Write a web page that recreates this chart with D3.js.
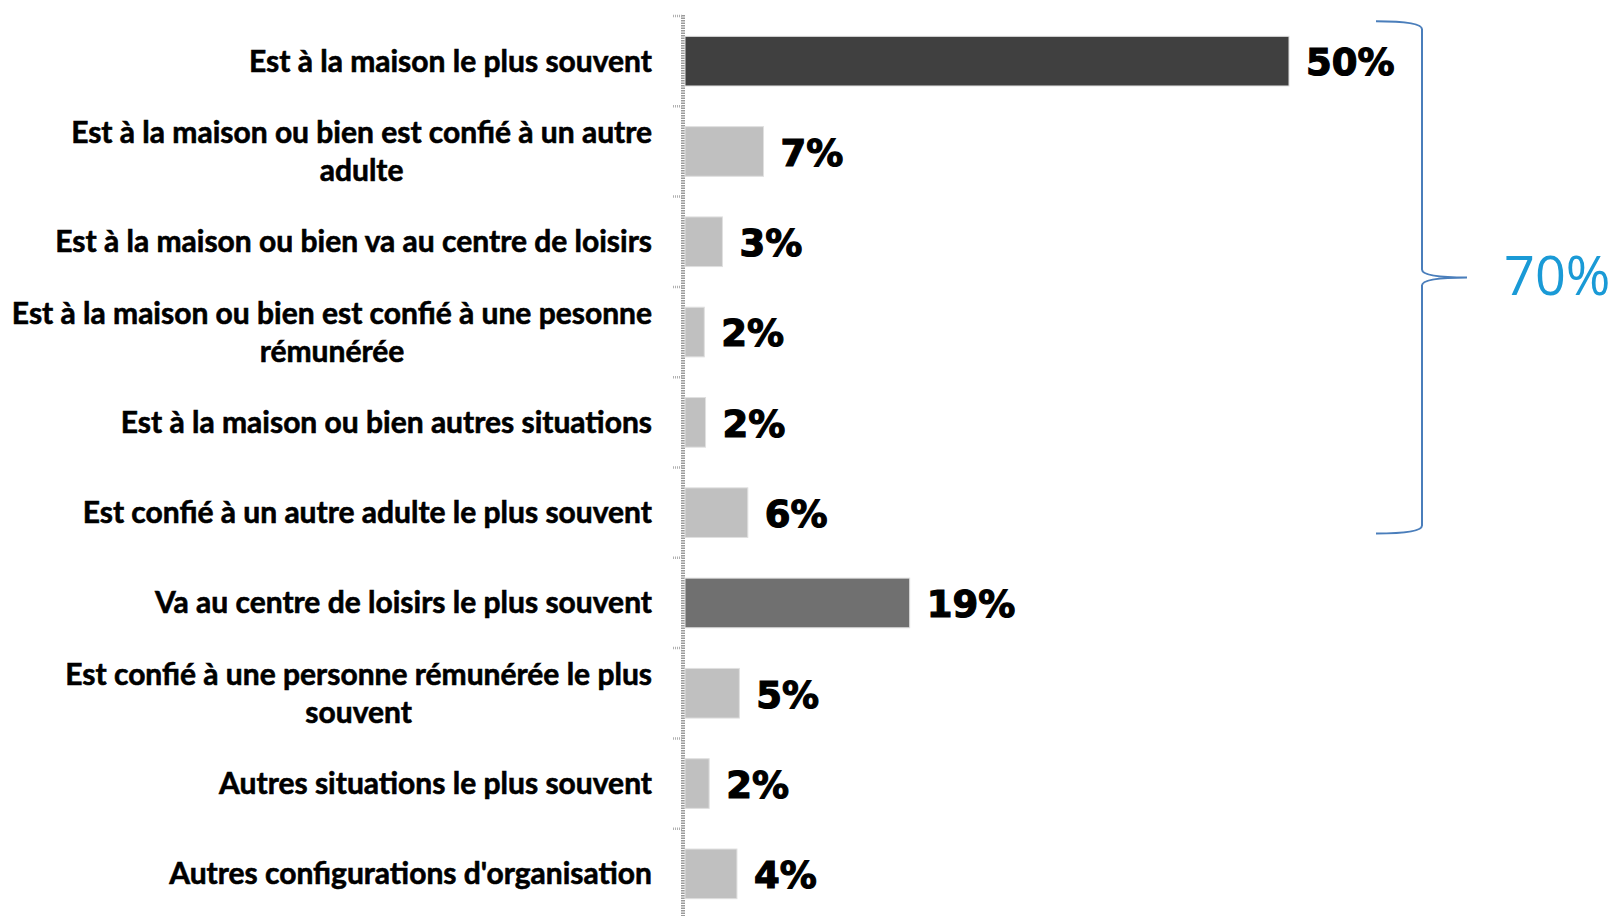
<!DOCTYPE html>
<html>
<head>
<meta charset="utf-8">
<script src="https://cdn.jsdelivr.net/npm/d3@7"></script>
<style>
  html, body { margin: 0; padding: 0; background: #fff; }
  svg { display: block; }
</style>
</head>
<body>
<svg id="chart" width="1614" height="916"></svg>
<script>

// categories, one array of lines per label
var categories = [
    ["Est à la maison le plus souvent"],
    ["Est à la maison ou bien est confié à un autre", "adulte"],
    ["Est à la maison ou bien va au centre de loisirs"],
    ["Est à la maison ou bien est confié à une pesonne", "rémunérée"],
    ["Est à la maison ou bien autres situations"],
    ["Est confié à un autre adulte le plus souvent"],
    ["Va au centre de loisirs le plus souvent"],
    ["Est confié à une personne rémunérée le plus", "souvent"],
    ["Autres situations le plus souvent"],
    ["Autres configurations d'organisation"]
]

var values = [50, 6.5, 3.1, 1.6, 1.7, 5.2, 18.6, 4.5, 2.0, 4.3]
var valueLabels = ["50%", "7%", "3%", "2%", "2%", "6%", "19%", "5%", "2%", "4%"]
var groups = ["main", "sub", "sub", "sub", "sub", "sub", "centre", "sub", "sub", "sub"]

// brace over the first six rows
var braceFrom = 0, braceTo = 5
var braceLabel = "70%"

var svg = d3.select("#chart")

var y = d3.scaleBand()
            .domain(d3.range(categories.length))
            .range([16, 919])
            .paddingInner(0.45)
            .paddingOuter(0.225)

var x = d3.scaleLinear()
            .domain([0, 50])
            .range([685, 1289])

var color = d3.scaleOrdinal()
            .domain(["main", "centre", "sub"])
            .range(["#404040", "#707070", "#c0c0c0"])

var step = y.step()
var top0 = y.range()[0]

// axis line with small ticks at band boundaries
var gAxis = svg.append("g")
gAxis.append("line")
    .attr("x1", 683).attr("x2", 683)
    .attr("y1", top0 - 1).attr("y2", 916)
    .attr("stroke", "#9a9a9a")
    .attr("stroke-width", 4)
    .attr("stroke-dasharray", "1.5 1")

gAxis.selectAll(".tick")
    .data(d3.range(categories.length + 1))
    .join("line")
    .attr("class", "tick")
    .attr("x1", 673).attr("x2", 683)
    .attr("y1", d => top0 + d * step)
    .attr("y2", d => top0 + d * step)
    .attr("stroke", "#b0b0b0")
    .attr("stroke-width", 2.5)
    .attr("stroke-dasharray", "1 1")

// bars
svg.append("g")
    .selectAll("rect")
    .data(values)
    .join("rect")
    .attr("x", x(0))
    .attr("y", (d, i) => y(i))
    .attr("width", d => x(d) - x(0))
    .attr("height", y.bandwidth())
    .attr("fill", (d, i) => color(groups[i]))
    .attr("stroke", "#e0e0e0")
    .attr("stroke-width", 1)

// value labels
svg.append("g")
    .selectAll("text")
    .data(values)
    .join("text")
    .attr("x", d => x(d) + 17)
    .attr("y", (d, i) => y(i) + y.bandwidth() / 2 + 1)
    .attr("dy", "0.36em")
    .attr("font-family", "DejaVu Sans")
    .attr("font-weight", "bold")
    .attr("font-size", 37)
    .attr("fill", "#000")
    .attr("stroke", "#000")
    .attr("stroke-width", 1.2)
    .text((d, i) => valueLabels[i])

// category labels: block right aligned, lines centred in block
var labelRight = 652
var lineH = 38
var gLab = svg.append("g")
    .attr("font-family", "Lato")
    .attr("font-weight", "bold")
    .attr("font-size", 30)
    .attr("fill", "#000")
    .attr("stroke", "#000")
    .attr("stroke-width", 0.6)

categories.forEach(function(lines, i) {
    var g = gLab.append("g")
    var cy = y(i) + y.bandwidth() / 2
    var texts = lines.map(function(l, j) {
        return g.append("text")
            .attr("y", cy + (j - (lines.length - 1) / 2) * lineH)
            .attr("dy", "0.35em")
            .attr("text-anchor", "middle")
            .text(l)
    })
    var w = d3.max(texts, t => t.node().getComputedTextLength())
    texts.forEach(t => t.attr("x", labelRight - w / 2))
})

// brace
var bTop = y(braceFrom) - 15
var bBot = y(braceTo) + y.bandwidth() - 4
var bMid = (bTop + bBot) / 2
var bx0 = 1376, bx1 = 1422, bTip = 1467

var p = d3.path()
p.moveTo(bx0, bTop)
p.quadraticCurveTo(bx1, bTop, bx1, bTop + 8)
p.lineTo(bx1, bMid - 8)
p.quadraticCurveTo(bx1, bMid, bTip, bMid)
p.quadraticCurveTo(bx1, bMid, bx1, bMid + 8)
p.lineTo(bx1, bBot - 8)
p.quadraticCurveTo(bx1, bBot, bx0, bBot)

svg.append("path")
    .attr("d", p.toString())
    .attr("fill", "none")
    .attr("stroke", "#4a7ebb")
    .attr("stroke-width", 2)

svg.append("text")
    .attr("x", 1504)
    .attr("y", bMid + 18)
    .attr("font-family", "Open Sans")
    .attr("font-size", 54)
    .attr("fill", "#1a9ad6")
    .text(braceLabel)

</script>
</body>
</html>
